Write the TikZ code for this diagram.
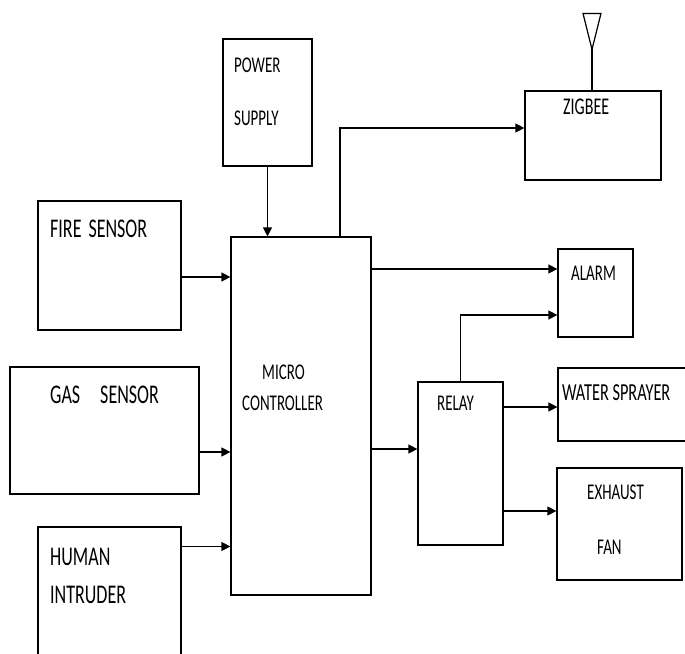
\documentclass[tikz,border=0pt]{standalone}
\usepackage{fontspec}
\setmainfont{Carlito}
\usepackage{graphicx}
\usetikzlibrary{arrows.meta,calc}
\newcommand{\tx}[2]{\scalebox{1}[1.5]{\fontsize{#1}{#1}\selectfont #2}}
\tikzset{
  blk/.style={draw=black,line width=1.2pt,minimum width=#1,inner sep=0pt},
  lbl/.style={anchor=west,inner sep=0pt,text=black},
  arr/.style={line width=1.2pt,-{Triangle[length=9pt,width=9pt]}},
  ln/.style={line width=1.2pt}
}
\begin{document}
\begin{tikzpicture}[x=1pt,y=-1pt]
\useasboundingbox (0,0) rectangle (685,653);
\fill[white] (0,0) rectangle (685,653);
\clip (0,0) rectangle (685,653);
% boxes
\node[blk=143pt,minimum height=129pt] (fire) at (109.5,265.5) {};
\node[blk=189pt,minimum height=127pt] (gas) at (104.5,430.5) {};
\node[blk=143pt,minimum height=173pt] (human) at (109.5,613.5) {};
\node[blk=89pt,minimum height=127pt] (power) at (267.5,102.5) {};
\node[blk=140pt,minimum height=358pt] (mc) at (301,416) {};
\node[blk=136pt,minimum height=89pt] (zigbee) at (593,135.5) {};
\node[blk=75pt,minimum height=88pt] (alarm) at (595.5,293) {};
\node[blk=85pt,minimum height=163pt] (relay) at (460.5,463.5) {};
\node[blk=137pt,minimum height=73pt] (water) at (626.5,404.5) {};
\node[blk=125pt,minimum height=112pt] (exhaust) at (619.5,524) {};
% labels
\node[lbl] (tfire) at (50,229) {\tx{18}{FIRE\hspace{7pt}SENSOR}};
\node[lbl] (tgas) at (50,395) {\tx{18}{GAS\hspace{20pt}SENSOR}};
\node[lbl] (thuman) at (50,557) {\tx{18}{HUMAN}};
\node[lbl] (tintr) at (50,595) {\tx{18}{INTRUDER}};
\node[lbl] (tpower) at (234,65) {\tx{15}{POWER}};
\node[lbl] (tsupply) at (234,118) {\tx{15}{SUPPLY}};
\node[lbl] (tmicro) at (262,372) {\tx{15}{MICRO}};
\node[lbl] (tctrl) at (242,403) {\tx{15}{CONTROLLER}};
\node[lbl] (tzig) at (563,107) {\tx{16}{ZIGBEE}};
\node[lbl] (talarm) at (571,273) {\tx{15}{ALARM}};
\node[lbl] (trelay) at (437,403) {\tx{15}{RELAY}};
\node[lbl] (twater) at (562,393) {\tx{16.3}{WATER SPRAYER}};
\node[lbl] (texh) at (587,492) {\tx{15}{EXHAUST}};
\node[lbl] (tfan) at (597,547) {\tx{15}{FAN}};
% connectors
\draw[arr] ($(fire.east)+(0,11.5)$) coordinate (f1) -- (f1 -| mc.west);
\draw[arr] ($(gas.east)+(0,21.5)$) coordinate (g1) -- (g1 -| mc.west);
\draw[arr] ($(human.east)+(0,-67)$) coordinate (h1) -- (h1 -| mc.west);
\draw[arr] (power.south) -- (power.south |- mc.north);
\draw[arr] ($(mc.north)+(39,0)$) |- ($(zigbee.west)+(0,-7.5)$);
\draw[arr] ($(mc.east)+(0,-147)$) coordinate (m1) -- (m1 -| alarm.west);
\draw[arr] (relay.north) |- ($(alarm.west)+(0,22)$);
\draw[arr] ($(mc.east)+(0,33)$) coordinate (m2) -- (m2 -| relay.west);
\draw[arr] ($(relay.east)+(0,-56.5)$) coordinate (r1) -- (r1 -| water.west);
\draw[arr] ($(relay.east)+(0,47.5)$) coordinate (r2) -- (r2 -| exhaust.west);
% antenna
\coordinate (antTop) at ($(zigbee.north)+(-1,-41)$);
\draw[ln] (zigbee.north -| antTop) -- (antTop);
\draw[ln] (antTop) -- ++(-9,-36) -- ++(18,0) -- cycle;
\end{tikzpicture}
\end{document}
